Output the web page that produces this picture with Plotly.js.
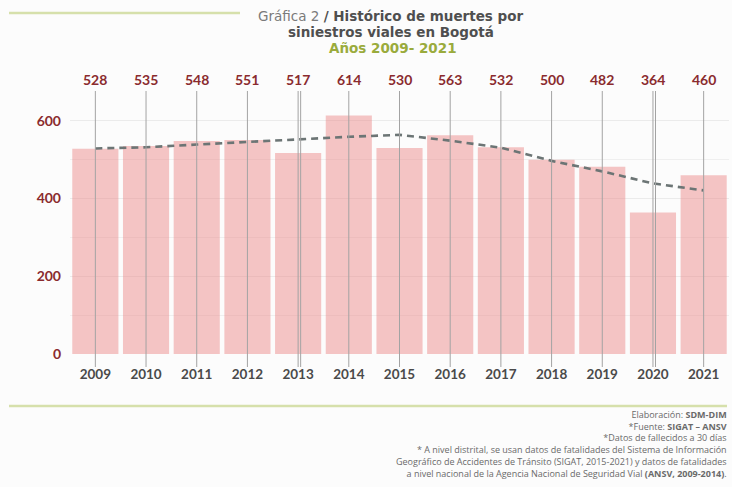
<!DOCTYPE html>
<html>
<head>
<meta charset="utf-8">
<script src="https://cdn.plot.ly/plotly-3.0.1.min.js"></script>
<style>html,body{margin:0;padding:0;background:#fcfcfc;}#chart{width:732px;height:487px;}</style>
</head>
<body>
<div id="chart"></div>
<script>
var years = ['2009','2010','2011','2012','2013','2014','2015','2016','2017','2018','2019','2020','2021'];
var deaths = [528, 535, 548, 551, 517, 614, 530, 563, 532, 500, 482, 364, 460];
var trend = [529, 532, 539, 546, 553, 559, 564, 549, 531, 497, 470, 439, 421];
var yTicks = [0, 200, 400, 600];

var W = 732, H = 487;
var L = 70, R = 3, T = 89, B = 133;
var pw = W - L - R, ph = H - T - B;
function PX(x){ return (x - L) / pw; }
function PY(y){ return (H - B - y) / ph; }

var darkRed = '#8a2b2e';
var gray = '#4a4a4a';

var traces = [
  {
    type: 'bar', x: years, y: deaths,
    marker: {color: 'rgba(235,128,128,0.45)', line: {width: 0}},
    hoverinfo: 'x+y', showlegend: false
  },
  {
    type: 'scatter', mode: 'lines', x: years, y: trend,
    line: {color: '#6c7575', width: 2.6, dash: '7px,5px'},
    hoverinfo: 'skip', showlegend: false
  }
];

var shapes = [];
years.forEach(function(yr, i){
  shapes.push({type: 'line', xref: 'x', yref: 'paper', x0: i, x1: i, y0: PY(367), y1: PY(91),
    line: {color: '#a3a3a3', width: 1}, layer: 'above'});
});
// double lines visible at 2013 and 2020
[4, 11].forEach(function(i){
  shapes.push({type: 'line', xref: 'x', yref: 'paper', x0: i + 0.05, x1: i + 0.05, y0: PY(367), y1: PY(91),
    line: {color: '#a3a3a3', width: 1}, layer: 'above'});
});
shapes.push({type: 'line', xref: 'paper', yref: 'paper', x0: PX(9), x1: PX(240), y0: PY(13), y1: PY(13),
  line: {color: '#d6e0ab', width: 2.5}});
shapes.push({type: 'line', xref: 'paper', yref: 'paper', x0: PX(9), x1: PX(727), y0: PY(406), y1: PY(406),
  line: {color: '#d6e0ab', width: 2.5}});

var annotations = [];
deaths.forEach(function(v, i){
  annotations.push({xref: 'x', yref: 'paper', x: i, y: PY(79), yanchor: 'middle', xanchor: 'center',
    text: '<b>' + v + '</b>', showarrow: false,
    font: {family: 'Lato, sans-serif', size: 14, color: darkRed}});
});
annotations.push({xref: 'paper', yref: 'paper', x: PX(391), y: PY(16), xanchor: 'center', yanchor: 'middle',
  showarrow: false, borderpad: 0,
  text: '<span style="font-weight:normal;color:#7a7a7a">Gráfica 2 </span><b>/ Histórico de muertes por</b>',
  font: {family: 'DejaVu Sans, sans-serif', size: 13.5, color: '#4f4f4f'}});
annotations.push({xref: 'paper', yref: 'paper', x: PX(391), y: PY(32), xanchor: 'center', yanchor: 'middle',
  showarrow: false, borderpad: 0, text: '<b>siniestros viales en Bogotá</b>',
  font: {family: 'DejaVu Sans, sans-serif', size: 13.5, color: '#4f4f4f'}});
annotations.push({xref: 'paper', yref: 'paper', x: PX(393), y: PY(48.5), xanchor: 'center', yanchor: 'middle',
  showarrow: false, borderpad: 0, text: '<b>Años 2009- 2021</b>',
  font: {family: 'DejaVu Sans, sans-serif', size: 13.5, color: '#9aab3c'}});
annotations.push({xref: 'paper', yref: 'paper', x: PX(728), y: PY(407), xanchor: 'right', yanchor: 'top', align: 'right',
  showarrow: false, borderpad: 0,
  text: 'Elaboración: <b>SDM-DIM</b><br>*Fuente: <b>SIGAT – ANSV</b><br>*Datos de fallecidos a 30 días<br>' +
        '* A nivel distrital, se usan datos de fatalidades del Sistema de Información<br>' +
        'Geográfico de Accidentes de Tránsito (SIGAT, 2015-2021) y datos de fatalidades<br>' +
        'a nivel nacional de la Agencia Nacional de Seguridad Vial <b>(ANSV, 2009-2014)</b>.',
  font: {family: 'Open Sans, sans-serif', size: 9, color: '#6a6a6a'}});

var layout = {
  width: W, height: H,
  margin: {l: L, r: R, t: T, b: B, pad: 0},
  paper_bgcolor: '#fcfcfc', plot_bgcolor: '#fcfcfc',
  bargap: 0.09,
  showlegend: false,
  xaxis: {
    type: 'category', range: [-0.5, 12.5], showgrid: false, zeroline: false, showline: false,
    ticks: '', ticklabelstandoff: 10,
    tickfont: {family: 'Lato, sans-serif', size: 13.5, color: gray, weight: 'bold'},
    fixedrange: true
  },
  yaxis: {
    range: [0, 682], tickvals: yTicks, ticktext: yTicks.map(String),
    showgrid: true, gridcolor: '#ebebeb', gridwidth: 1, zeroline: false, showline: false,
    minor: {dtick: 100, tick0: 0, showgrid: true, gridcolor: '#efefef', gridwidth: 1},
    ticks: '', ticklabelstandoff: 8,
    tickfont: {family: 'Lato, sans-serif', size: 14, color: darkRed, weight: 'bold'},
    fixedrange: true
  },
  shapes: shapes,
  annotations: annotations
};

Plotly.newPlot('chart', traces, layout, {displayModeBar: false, staticPlot: true});
</script>
</body>
</html>
